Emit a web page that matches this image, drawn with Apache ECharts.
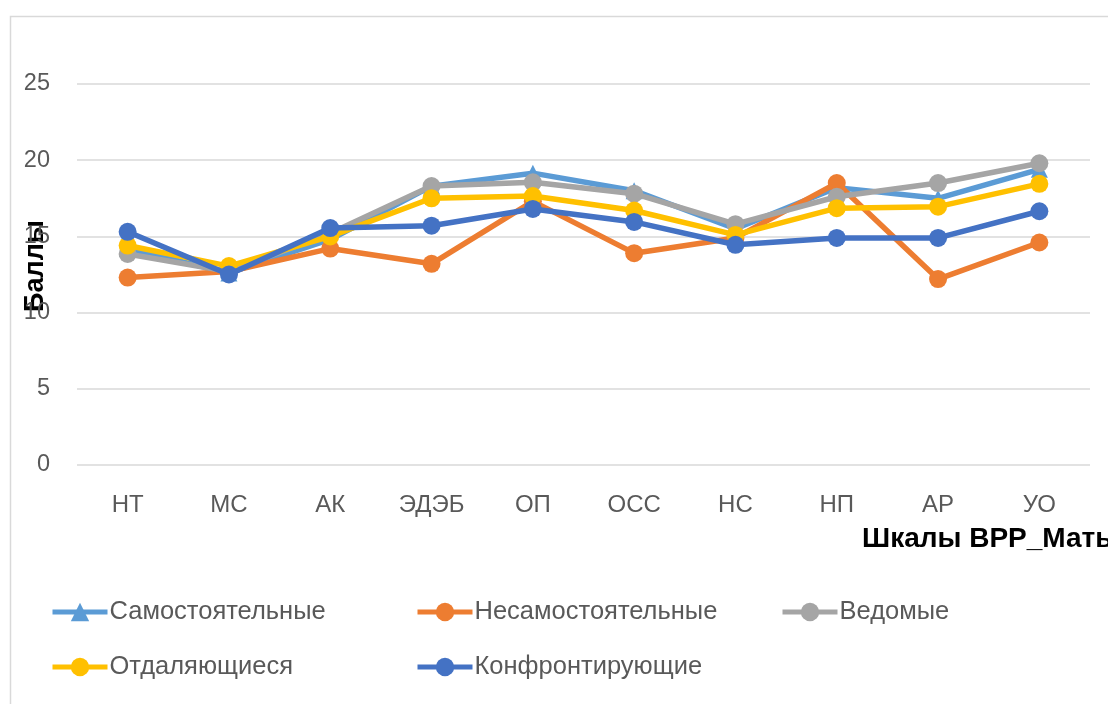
<!DOCTYPE html>
<html><head><meta charset="utf-8">
<script src="https://cdn.jsdelivr.net/npm/echarts@6/dist/echarts.min.js"></script>
<style>html,body{margin:0;padding:0;background:#fff}#c{width:1108px;height:704px}</style>
</head><body><div id="c"></div>
<script>
const categories = ['НТ','МС','АК','ЭДЭБ','ОП','ОСС','НС','НП','АР','УО'];
const seriesNames = ['Самостоятельные','Несамостоятельные','Ведомые','Отдаляющиеся','Конфронтирующие'];
const samostoyatelnye = [14.2, 12.6, 14.8, 18.3, 19.15, 18.0, 15.5, 18.2, 17.5, 19.4];
const nesamostoyatelnye = [12.3, 12.7, 14.2, 13.2, 17.3, 13.9, 14.9, 18.5, 12.2, 14.6];
const vedomye = [13.85, 12.7, 15.2, 18.3, 18.55, 17.8, 15.8, 17.6, 18.5, 19.8];
const otdalyayushchiesya = [14.4, 13.05, 15.0, 17.5, 17.65, 16.7, 15.1, 16.85, 16.95, 18.45];
const konfrontiruyushchie = [15.3, 12.5, 15.55, 15.7, 16.8, 15.95, 14.45, 14.9, 14.9, 16.65];
const yTicks = [0, 5, 10, 15, 20, 25];

const colors = ['#5B9BD5','#ED7D31','#A5A5A5','#FFC000','#4472C4'];
const values = [samostoyatelnye, nesamostoyatelnye, vedomye, otdalyayushchiesya, konfrontiruyushchie];
const symbols = ['triangle','circle','circle','circle','circle'];
const FONT = 'Liberation Sans';

const chart = echarts.init(document.getElementById('c'), null, {renderer:'canvas'});
const legendPos = [[50,599],[415,599],[780,599],[50,654],[415,654]];
chart.setOption({
  animation:false,
  color: colors,
  textStyle:{fontFamily:FONT},
  grid:{left:77, right:18, top:84, bottom:239},
  legend: seriesNames.map((n,i)=>({
    data:[n], left:legendPos[i][0], top:legendPos[i][1], padding:0,
    itemWidth:55, itemHeight:23, itemGap:0,
    lineStyle:{width:5},
    textStyle:{fontFamily:FONT, fontSize:25.5, color:'#595959', padding:[4,0,0,-3]}
  })),
  xAxis:{
    type:'category', data:categories, boundaryGap:true,
    axisLine:{show:false}, axisTick:{show:false},
    axisLabel:{color:'#595959', fontSize:24, margin:28, fontFamily:FONT}
  },
  yAxis:{
    type:'value', min:yTicks[0], max:yTicks[yTicks.length-1], interval:5,
    axisLine:{show:false}, axisTick:{show:false},
    axisLabel:{color:'#595959', fontSize:23.5, margin:27, fontFamily:FONT},
    splitLine:{lineStyle:{color:'#D9D9D9', width:1.5}}
  },
  graphic:[
    {type:'rect', shape:{x:10.5,y:16.5,width:1120,height:720}, style:{fill:null, stroke:'#D9D9D9', lineWidth:1.5}, z:-1},
    {type:'text', x:36, y:266, rotation:Math.PI/2, style:{text:'Баллы', font:'bold 27px '+FONT, fill:'#000', align:'center', verticalAlign:'middle'}},
    {type:'text', x:862, y:539, style:{text:'Шкалы ВРР_Мать', font:'bold 28px '+FONT, fill:'#000', align:'left', verticalAlign:'middle'}}
  ],
  series: seriesNames.map((n,i)=>({
    name:n, type:'line', data:values[i], symbol:symbols[i],
    symbolSize: i===0 ? 17 : 18,
    lineStyle:{width:5.5, color:colors[i]},
    itemStyle:{color:colors[i]},
    z: 2+i
  }))
});
</script></body></html>
